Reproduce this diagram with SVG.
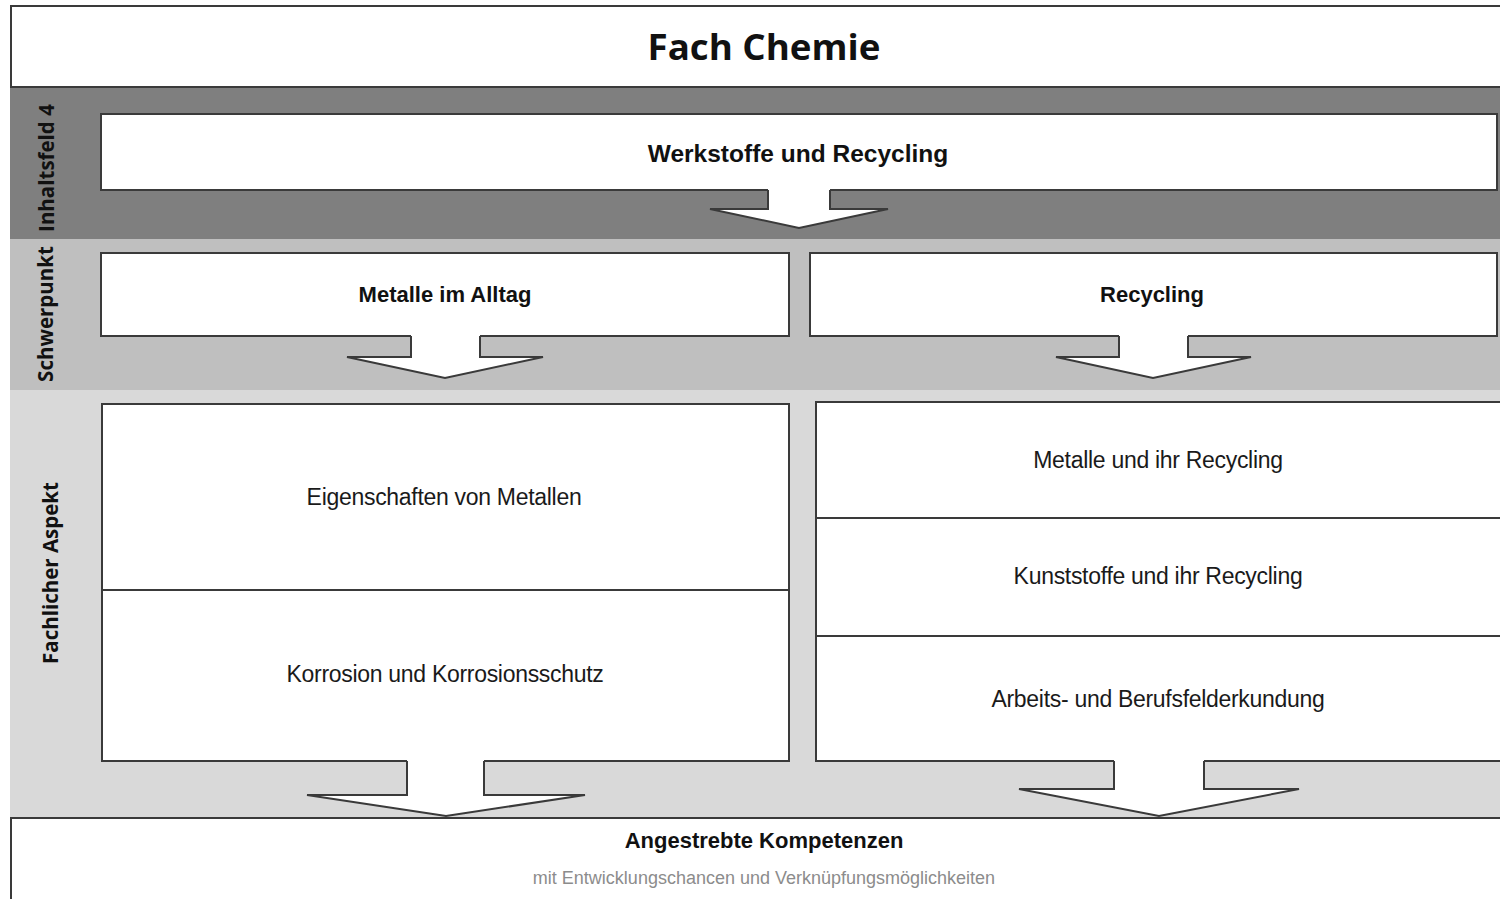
<svg xmlns="http://www.w3.org/2000/svg" width="1500" height="899" viewBox="0 0 1500 899">
  <style>
    .box { fill: #ffffff; stroke: #3a3a3a; stroke-width: 2; }
    .arrow-fill { fill: #ffffff; stroke: none; }
    .arrow-line { fill: none; stroke: #3a3a3a; stroke-width: 2; stroke-linejoin: miter; }
    .head { font-family: "Liberation Sans", Arial, sans-serif; font-weight: bold; font-size: 22px; fill: #111111; text-anchor: middle; }
    .item { font-family: "Liberation Sans", Arial, sans-serif; font-size: 23px; fill: #1a1a1a; text-anchor: middle; letter-spacing: -0.3px; }
    .side { font-family: "Open Sans", "Noto Sans", sans-serif; font-weight: bold; font-size: 20.5px; fill: #111111; text-anchor: middle; }
  </style>

  <!-- background bands -->
  <g id="bands">
    <rect x="10" y="87" width="1492" height="152" fill="#7f7f7f"/>
    <rect x="10" y="239" width="1492" height="151" fill="#bfbfbf"/>
    <rect x="10" y="390" width="1492" height="428" fill="#d9d9d9"/>
  </g>

  <!-- title -->
  <g id="title">
    <rect class="box" x="11" y="6" width="1495" height="81"/>
    <text x="764" y="60" font-family="Open Sans, Noto Sans, sans-serif" font-weight="bold" font-size="36" fill="#111111" text-anchor="middle" textLength="233" lengthAdjust="spacingAndGlyphs">Fach Chemie</text>
  </g>

  <!-- row labels -->
  <g id="labels">
    <text class="side" transform="translate(54,168) rotate(-90)">Inhaltsfeld 4</text>
    <text class="side" transform="translate(53,314) rotate(-90)">Schwerpunkt</text>
    <text class="side" transform="translate(58,573) rotate(-90)">Fachlicher Aspekt</text>
  </g>

  <!-- content field -->
  <g id="werkstoffe">
    <rect class="box" x="101" y="114" width="1396" height="76"/>
    <text class="head" x="798" y="162" style="font-size:24.5px">Werkstoffe und Recycling</text>
  </g>

  <!-- focus areas -->
  <g id="metalle-alltag">
    <rect class="box" x="101" y="253" width="688" height="83"/>
    <text class="head" x="445" y="302">Metalle im Alltag</text>
  </g>
  <g id="recycling">
    <rect class="box" x="810" y="253" width="687" height="83"/>
    <text class="head" x="1152" y="302">Recycling</text>
  </g>

  <!-- subject aspects, left column -->
  <g id="eigenschaften">
    <rect class="box" x="102" y="404" width="687" height="186"/>
    <text class="item" x="444" y="505">Eigenschaften von Metallen</text>
  </g>
  <g id="korrosion">
    <rect class="box" x="102" y="590" width="687" height="171"/>
    <text class="item" x="445" y="682">Korrosion und Korrosionsschutz</text>
  </g>

  <!-- subject aspects, right column -->
  <g id="metalle-recycling">
    <rect class="box" x="816" y="402" width="690" height="116"/>
    <text class="item" x="1158" y="468">Metalle und ihr Recycling</text>
  </g>
  <g id="kunststoffe">
    <rect class="box" x="816" y="518" width="690" height="118"/>
    <text class="item" x="1158" y="584">Kunststoffe und ihr Recycling</text>
  </g>
  <g id="berufsfelder">
    <rect class="box" x="816" y="636" width="690" height="125"/>
    <text class="item" x="1158" y="707">Arbeits- und Berufsfelderkundung</text>
  </g>

  <!-- competences -->
  <g id="kompetenzen">
    <rect x="11" y="818" width="1495" height="90" fill="#ffffff" stroke="#3a3a3a" stroke-width="2"/>
    <text class="head" x="764" y="848">Angestrebte Kompetenzen</text>
    <text x="764" y="884" font-family="Liberation Sans, Arial, sans-serif" font-size="18" fill="#8c8c8c" text-anchor="middle">mit Entwicklungschancen und Verknüpfungsmöglichkeiten</text>
  </g>

  <!-- block arrows between levels -->
  <g id="connectors">
    <polygon class="arrow-fill" points="768,188 768,209 710,209 799,228 888,209 830,209 830,188"/>
    <polyline class="arrow-line" points="768,190 768,209 710,209 799,228 888,209 830,209 830,190"/>

    <polygon class="arrow-fill" points="411,334 411,357 347,357 445,378 543,357 480,357 480,334"/>
    <polyline class="arrow-line" points="411,336 411,357 347,357 445,378 543,357 480,357 480,336"/>

    <polygon class="arrow-fill" points="1119,334 1119,357 1056,357 1153,378 1251,357 1188,357 1188,334"/>
    <polyline class="arrow-line" points="1119,336 1119,357 1056,357 1153,378 1251,357 1188,357 1188,336"/>

    <polygon class="arrow-fill" points="407,759 407,795 307,795 446,816 585,795 484,795 484,759"/>
    <polyline class="arrow-line" points="407,761 407,795 307,795 446,816 585,795 484,795 484,761"/>

    <polygon class="arrow-fill" points="1114,759 1114,789 1019,789 1159,816 1299,789 1204,789 1204,759"/>
    <polyline class="arrow-line" points="1114,761 1114,789 1019,789 1159,816 1299,789 1204,789 1204,761"/>
  </g>
</svg>
